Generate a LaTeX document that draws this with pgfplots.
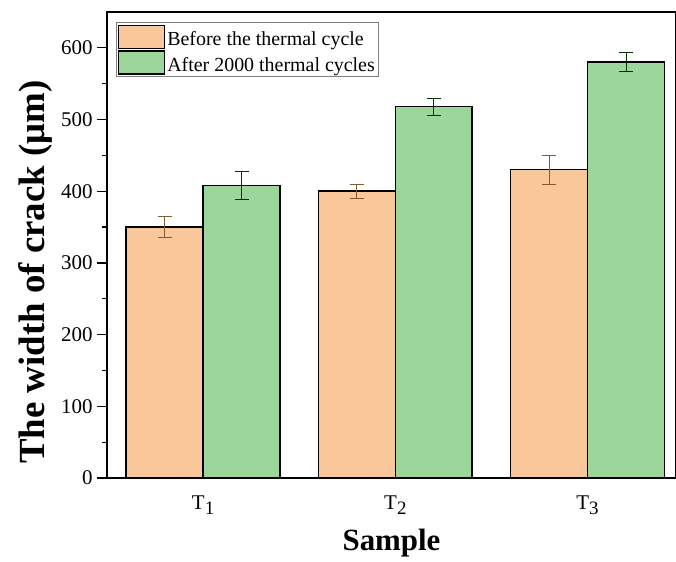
\documentclass[border=0pt]{standalone}
\usepackage{pgfplots}
\usepackage{pgfplotstable}
\usepackage{fontspec}
\setmainfont{Liberation Serif}
\pgfplotsset{compat=1.18}
\definecolor{peach}{RGB}{249,199,154}
\definecolor{mgreen}{RGB}{157,214,155}
\newcommand{\Tsub}[1]{T\raisebox{-5bp}{\fontsize{19}{20}\selectfont #1}}
\pgfplotstableread{
x y e
1 350 15
2 400 10
3 430 20
}\before
\pgfplotstableread{
x y e
1 408 20
2 518 12
3 580 13
}\after
\begin{document}
\begin{tikzpicture}[x=1bp,y=1bp]
\begin{axis}[
  scale only axis,
  width=569bp, height=466bp,
  xmin=0.5, xmax=3.46,
  ymin=0, ymax=650,
  ybar=0pt, bar width=0.4,
  xtick={1,2,3},
  xticklabels={\Tsub{1},\Tsub{2},\Tsub{3}},
  xtick style={draw=none},
  ytick={0,100,...,600},
  minor y tick num=1,
  ytick pos=left,
  tick align=outside,
  major tick length=10bp,
  minor tick length=5bp,
  axis line style={line width=1.4bp},
  every tick/.style={black,line width=1.2bp},
  tick label style={font=\fontsize{21}{23}\selectfont},
  /pgf/number format/assume math mode=true,
  yticklabel style={xshift=-1bp},
  xticklabel style={yshift=-4bp},
  ylabel={\bfseries The width of crack (μm)},
  xlabel={\bfseries Sample},
  ylabel style={font=\fontsize{37}{39}\selectfont, at={(axis description cs:-0.126,0.442)}, anchor=center},
  xlabel style={font=\fontsize{31}{33}\selectfont, yshift=-8bp},
  legend style={at={(0.015,0.978)}, anchor=north west, draw=gray, line width=0.6bp,
    font=\fontsize{20}{22}\selectfont, row sep=1bp, inner sep=2bp},
  legend cell align=left,
  legend image code/.code={\draw[#1, line width=1.5bp] (0bp,-9bp) rectangle (46bp,14bp);},
  error bars/y dir=both, error bars/y explicit,
  error bars/error mark options={rotate=90, mark size=7bp, line width=0.8bp},
]
\addplot[fill=peach, draw=black, line width=1.5bp,
  error bars/error bar style={line width=0.8bp, color=brown!70!black}] table[x=x,y=y,y error=e]{\before};
\addplot[fill=mgreen, draw=black, line width=1.5bp,
  error bars/error bar style={line width=0.8bp, color=green!20!black}] table[x=x,y=y,y error=e]{\after};
\legend{Before the thermal cycle, After 2000 thermal cycles}
\end{axis}
\pgfresetboundingbox
\path[use as bounding box] (current axis.south west) ++(-107bp,-84bp) rectangle ++(676bp,562bp);
\end{tikzpicture}
\end{document}
